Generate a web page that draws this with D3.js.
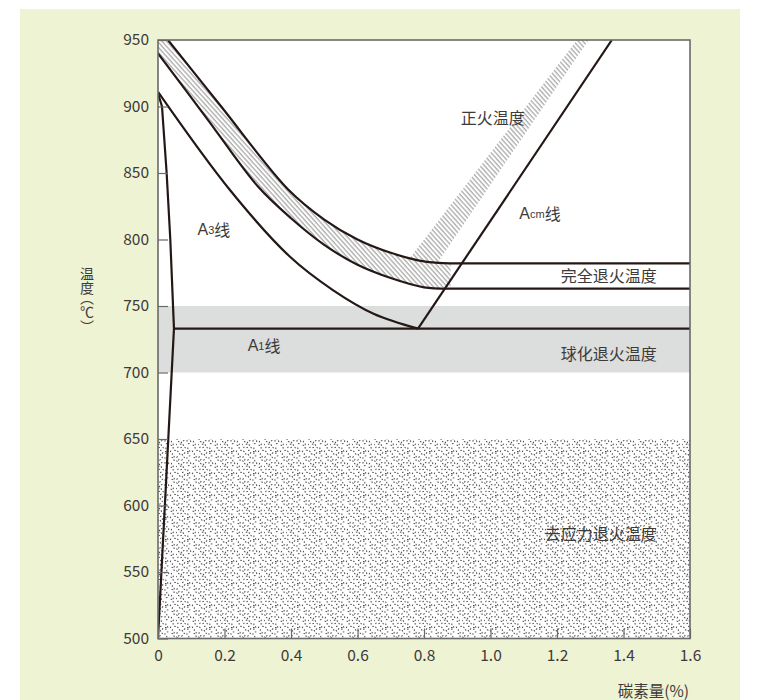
<!DOCTYPE html>
<html>
<head>
<meta charset="utf-8">
<script src="https://cdn.jsdelivr.net/npm/d3@7"></script>
<style>
  body { margin: 0; background: #fff; }
  text { font-family: "Noto Sans CJK SC", "Noto Sans", sans-serif; fill: #3e3a39; }
</style>
</head>
<body>
<svg id="chart" width="759" height="700"></svg>
<script>
// --- data (carbon %, temperature °C) ---
const xTicks = [0, 0.2, 0.4, 0.6, 0.8, 1.0, 1.2, 1.4, 1.6];
const xTickLabels = ["0", "0.2", "0.4", "0.6", "0.8", "1.0", "1.2", "1.4", "1.6"];
const yTicks = [500, 550, 600, 650, 700, 750, 800, 850, 900, 950];

// curved parts; the annealing lines continue flat to 1.6
const upperAnneal = [[-0.01, 962], [0.03, 950], [0.19, 900], [0.39, 838], [0.5, 815], [0.6, 800], [0.7, 790], [0.8, 783.5], [0.88, 782]];
const lowerAnneal = [[0, 940], [0.15, 890], [0.3, 840], [0.4, 816], [0.5, 796], [0.6, 781], [0.7, 771], [0.8, 764], [0.88, 763]];
const a3Line = [[0, 911], [0.217, 837], [0.397, 787], [0.526, 762], [0.65, 744], [0.782, 733]];
const a1Line = [[0.048, 733], [1.6, 733]];
const acmLine = [[0.782, 733], [1.365, 950]];
const leftLine = [[0, 910], [0.012, 900], [0.026, 850], [0.037, 800], [0.048, 733], [0, 500]];
const normalBand = [[0.745, 782], [1.26, 950], [1.295, 950], [0.845, 784], [0.82, 768]];

const spheroRange = [700, 750];
const stressRange = [500, 650];

const labels = [
  { text: "正火温度", x: 1.007, y: 892, anchor: "middle" },
  { text: "完全退火温度", x: 1.5, y: 773, anchor: "end" },
  { text: "球化退火温度", x: 1.5, y: 715, anchor: "end" },
  { text: "去应力退火温度", x: 1.5, y: 579, anchor: "end" }
];
const subLabels = [
  { main: "A", sub: "cm", tail: "线", x: 1.149, y: 820 },
  { main: "A", sub: "3", tail: "线", x: 0.168, y: 808 },
  { main: "A", sub: "1", tail: "线", x: 0.319, y: 721 }
];

const svg = d3.select("#chart");
const mLeft = 158, mRight = 690, mTop = 40, mBottom = 638.5;

// panel
svg.append("rect").attr("x", 20).attr("y", 9).attr("width", 720).attr("height", 691).attr("fill", "#eef3d4");

const x = d3.scaleLinear().domain([0, 1.6]).range([mLeft, mRight]);
const y = d3.scaleLinear().domain([500, 950]).range([mBottom, mTop]);

const defs = svg.append("defs");
defs.append("clipPath").attr("id", "plotClip")
  .append("rect").attr("x", mLeft).attr("y", mTop).attr("width", mRight - mLeft).attr("height", mBottom - mTop);

// hatch
const hatch = defs.append("pattern").attr("id", "hatch")
  .attr("patternUnits", "userSpaceOnUse").attr("width", 3.4).attr("height", 10)
  .attr("patternTransform", "rotate(-42)");
hatch.append("rect").attr("width", 3.4).attr("height", 10).attr("fill", "#fff");
hatch.append("line").attr("x1", 1).attr("x2", 1).attr("y1", 0).attr("y2", 10)
  .attr("stroke", "#a3a3a3").attr("stroke-width", 1.2);

// stipple tile (fixed quasi-regular dot layout)
const tile = 22;
const stip = defs.append("pattern").attr("id", "stipple")
  .attr("patternUnits", "userSpaceOnUse").attr("width", tile).attr("height", tile);
stip.append("rect").attr("width", tile).attr("height", tile).attr("fill", "#fff");
const g1 = 0.7548776662, g2 = 0.5698402910;
for (let i = 0; i < 40; i++) {
  const px = ((0.5 + g1 * i) % 1) * tile;
  const py = ((0.5 + g2 * i) % 1) * tile;
  stip.append("rect").attr("x", px).attr("y", py)
    .attr("width", 1.6).attr("height", 1)
    .attr("transform", `rotate(${(i * 67) % 180},${px},${py})`)
    .attr("fill", "#4a4a4a");
}

// plot background
svg.append("rect").attr("x", mLeft).attr("y", mTop).attr("width", mRight - mLeft).attr("height", mBottom - mTop).attr("fill", "#fff");

const plot = svg.append("g").attr("clip-path", "url(#plotClip)");

plot.append("rect")
  .attr("x", x(0)).attr("y", y(spheroRange[1]))
  .attr("width", x(1.6) - x(0)).attr("height", y(spheroRange[0]) - y(spheroRange[1]))
  .attr("fill", "#dcdddd");

plot.append("rect")
  .attr("x", x(0)).attr("y", y(stressRange[1]))
  .attr("width", x(1.6) - x(0)).attr("height", y(stressRange[0]) - y(stressRange[1]))
  .attr("fill", "url(#stipple)");

const curve = d3.line().x(d => x(d[0])).y(d => y(d[1])).curve(d3.curveCatmullRom.alpha(0.5));
const straight = d3.line().x(d => x(d[0])).y(d => y(d[1]));

// hatched band between the two annealing curves
const bandPath = curve(upperAnneal) + "L" + curve(lowerAnneal.slice().reverse()).slice(1) + "Z";
plot.append("path").attr("d", bandPath).attr("fill", "url(#hatch)");
plot.append("path").attr("d", straight(normalBand) + "Z").attr("fill", "url(#hatch)");

const lineColor = "#231815";
[upperAnneal, lowerAnneal].forEach(data => {
  const last = data[data.length - 1];
  plot.append("path").attr("d", curve(data) + `L${x(1.6)},${y(last[1])}`).attr("fill", "none")
    .attr("stroke", lineColor).attr("stroke-width", 2.2);
});
plot.append("path").attr("d", curve(a3Line)).attr("fill", "none")
  .attr("stroke", lineColor).attr("stroke-width", 2.2);
[a1Line, acmLine, leftLine].forEach(data => {
  plot.append("path").attr("d", straight(data)).attr("fill", "none")
    .attr("stroke", lineColor).attr("stroke-width", 2.2).attr("stroke-linejoin", "round");
});

// axes
const axisColor = "#6a6a6a";
const yAxis = svg.append("g").attr("transform", `translate(${mLeft},0)`)
  .call(d3.axisLeft(y).tickValues(yTicks).tickSizeInner(-10).tickSizeOuter(0).tickPadding(9));
const xAxis = svg.append("g").attr("transform", `translate(0,${mBottom})`)
  .call(d3.axisBottom(x).tickValues(xTicks).tickFormat((d, i) => xTickLabels[i])
    .tickSizeInner(-10).tickSizeOuter(0).tickPadding(11));
[yAxis, xAxis].forEach(a => {
  a.select(".domain").remove();
  a.selectAll(".tick line").attr("stroke", axisColor).attr("stroke-width", 1.2);
  a.selectAll(".tick text").attr("font-size", 15.5).style("fill", "#3e3a39")
    .attr("font-family", "'Liberation Sans', Arial, sans-serif");
});

svg.append("rect").attr("x", mLeft).attr("y", mTop).attr("width", mRight - mLeft).attr("height", mBottom - mTop)
  .attr("fill", "none").attr("stroke", axisColor).attr("stroke-width", 1.6);

// region labels
labels.forEach(l => {
  svg.append("text").attr("x", x(l.x)).attr("y", y(l.y))
    .attr("text-anchor", l.anchor).attr("dominant-baseline", "central")
    .attr("font-size", 16).text(l.text);
});
subLabels.forEach(l => {
  const t = svg.append("text").attr("x", x(l.x)).attr("y", y(l.y))
    .attr("text-anchor", "middle").attr("dominant-baseline", "central").attr("font-size", 16);
  t.append("tspan").attr("font-family", "'Liberation Sans', sans-serif").text(l.main);
  t.append("tspan").attr("font-size", 11).attr("font-family", "'Liberation Sans', sans-serif").attr("dy", 1).text(l.sub);
  t.append("tspan").attr("dy", -1).text(l.tail);
});

// axis titles
const yTitle = svg.append("text").attr("x", 87).attr("y", 267)
  .style("writing-mode", "vertical-rl").style("text-orientation", "upright")
  .attr("font-size", 14);
yTitle.append("tspan").text("温度");
yTitle.append("tspan").attr("dy", -4).text("︵");
yTitle.append("tspan").attr("dy", 0).text("℃");
yTitle.append("tspan").attr("dy", 1).text("︶");
svg.append("text").attr("x", 689).attr("y", 690).attr("text-anchor", "end")
  .attr("dominant-baseline", "central").attr("font-size", 15.5).text("碳素量(%)");
</script>
</body>
</html>
